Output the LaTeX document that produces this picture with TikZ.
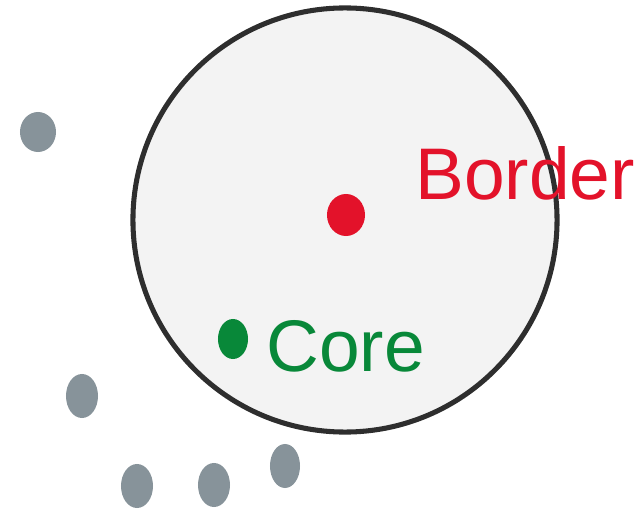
\documentclass[tikz,border=0pt]{standalone}
\usepackage{fontspec}
\setmainfont{Liberation Sans}
\usetikzlibrary{shapes.geometric}
\definecolor{cred}{HTML}{E3122A}
\definecolor{cgreen}{HTML}{088839}
\definecolor{cgrey}{HTML}{87939A}
\definecolor{cdark}{HTML}{2E2E2E}
\definecolor{cfill}{HTML}{F3F3F3}
\tikzset{
  every picture/.style={x=0.025cm, y=-0.025cm},
  region/.style={circle, draw=cdark, fill=cfill, line width=3.6pt, minimum size=10.6cm, inner sep=0pt},
  dot/.style={ellipse, fill=#1, inner sep=0pt, minimum width=0.8cm, minimum height=1.1cm},
  dot/.default=cgrey,
  label/.style={font=\fontsize{52}{56}\selectfont, text=#1, inner sep=0pt, anchor=base west},
}

\begin{document}
\begin{tikzpicture}
  \useasboundingbox (0,0) rectangle (641,512);
  % neighbourhood of the point
  \node[region] (eps) at (345,220) {};
  % points
  \node[dot=cred, minimum width=0.95cm, minimum height=1.05cm] (border) at (346,215) {};
  \node[dot=cgreen, minimum width=0.75cm, minimum height=1.0cm] (core) at (233,339) {};
  \node[dot, minimum width=0.9cm, minimum height=1.0cm] (n1) at (38,132) {};
  \node[dot] (n2) at (82,396) {};
  \node[dot] (n3) at (137,486) {};
  \node[dot] (n4) at (214,485) {};
  \node[dot, minimum width=0.75cm] (n5) at (285,466) {};
  % labels
  \node[label=cred] (borderlabel) at (415,200) {Border};
  \node[label=cgreen] (corelabel) at (266,372) {Core};
\end{tikzpicture}
\end{document}
